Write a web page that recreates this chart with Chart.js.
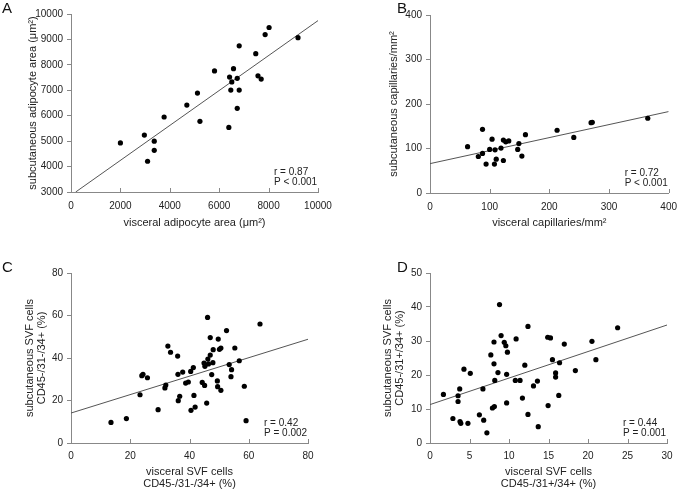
<!DOCTYPE html>
<html>
<head>
<meta charset="utf-8">
<script src="https://cdn.jsdelivr.net/npm/chart.js@4"></script>
<style>
  body { margin: 0; background: #fff; overflow: hidden; }
  .panel { position: absolute; }
  .letter { position: absolute; font: 15px/15px "Liberation Sans", Arial, sans-serif; color: #111; }
</style>
</head>
<body>
<div class="panel" style="left:0;top:0;width:342px;height:245px"><canvas id="chartA"></canvas></div>
<div class="panel" style="left:342px;top:0;width:343px;height:245px"><canvas id="chartB"></canvas></div>
<div class="panel" style="left:0;top:245px;width:342px;height:244px"><canvas id="chartC"></canvas></div>
<div class="panel" style="left:342px;top:245px;width:343px;height:244px"><canvas id="chartD"></canvas></div>
<div class="letter" style="left:2px;top:0">A</div>
<div class="letter" style="left:397px;top:0">B</div>
<div class="letter" style="left:2px;top:259px">C</div>
<div class="letter" style="left:397px;top:259px">D</div>
<script>
// Panel A: adipocyte area (um2)
var aVisceral = [2000, 2970, 3370, 3370, 3100, 3770, 4690, 5120, 5220, 5810, 6420, 6580, 6510, 6470, 6730, 6810, 6730, 6390, 6810, 7480, 7570, 7700, 7860, 8020, 9190];
var aSubcut   = [4930, 5240, 5000, 4640, 4210, 5950, 6420, 6890, 5780, 7760, 7520, 7850, 7330, 7010, 7470, 7010, 6290, 5540, 8750, 8440, 7570, 7440, 9190, 9470, 9070];
var aFit = [0.687, 2870]; // slope, intercept

// Panel B: capillaries/mm2
var bVisceral = [63, 81, 88, 88, 94, 100, 104, 109, 111, 108, 119, 123, 123, 127, 132, 147, 149, 154, 160, 213, 241, 270, 272, 365];
var bSubcut   = [104, 82, 89, 143, 65, 98, 121, 97, 76, 65, 101, 73, 119, 115, 117, 98, 111, 83, 131, 141, 125, 158, 159, 168];
var bFit = [0.2925, 66];

// Panel C: SVF cells CD45-/31-/34+ (%)
var cVisceral = [13.5, 18.7, 23.3, 23.9, 24.3, 25.8, 29.4, 31.7, 32.0, 32.7, 33.6, 36.0, 36.1, 36.2, 36.7, 37.7, 38.7, 39.6, 40.4, 40.5, 41.3, 41.5, 41.9, 44.3, 44.9, 45.2, 45.1, 45.8, 46.1, 46.2, 46.4, 47.0, 47.0, 47.5, 47.9, 48.0, 49.4, 49.7, 49.5, 50.1, 50.6, 50.6, 52.5, 53.4, 54.0, 54.2, 55.3, 56.8, 58.5, 59.1, 63.8];
var cSubcut   = [9.7, 11.5, 22.7, 31.7, 32.3, 30.7, 15.7, 25.9, 27.3, 45.6, 42.7, 40.9, 32.3, 19.9, 22.0, 33.4, 28.2, 28.7, 33.7, 15.4, 35.5, 22.4, 16.9, 28.5, 37.6, 36.1, 27.1, 18.8, 59.1, 39.5, 37.2, 49.6, 41.4, 32.2, 37.8, 43.9, 29.2, 48.9, 26.5, 44.1, 44.7, 24.8, 52.9, 36.9, 31.2, 34.5, 44.7, 38.7, 26.7, 10.5, 56.0];
var cFit = [0.434, 14.1];

// Panel D: SVF cells CD45-/31+/34+ (%)
var dVisceral = [1.7, 2.9, 3.55, 3.55, 3.76, 3.8, 3.9, 4.3, 4.8, 5.1, 6.25, 6.7, 6.8, 7.2, 7.7, 7.9, 8.1, 8.1, 8.15, 8.2, 8.6, 8.8, 9.0, 9.4, 9.6, 9.7, 9.7, 9.8, 10.8, 10.9, 11.4, 11.7, 12.0, 12.4, 12.4, 13.1, 13.6, 13.7, 14.9, 14.95, 15.25, 15.5, 15.9, 15.9, 16.3, 16.4, 17.0, 18.4, 20.5, 21.0, 23.75];
var dSubcut   = [14.3, 7.2, 12.2, 13.9, 15.9, 6.3, 5.8, 21.7, 5.8, 20.5, 8.3, 15.9, 6.7, 3.0, 25.9, 10.3, 23.3, 29.7, 10.7, 18.4, 20.7, 40.7, 31.6, 29.6, 28.6, 20.2, 11.8, 26.7, 18.4, 30.6, 18.4, 13.2, 22.9, 34.3, 8.4, 16.8, 18.2, 4.8, 31.1, 11.0, 30.9, 24.5, 20.6, 19.4, 14.0, 23.6, 29.1, 21.3, 29.9, 24.5, 33.9];
var dFit = [0.78, 11.3];

Chart.defaults.font.family = '"Liberation Sans", Arial, sans-serif';
Chart.defaults.color = '#222';

var axisGray = '#888';

// inward x ticks + r / P text
var extras = {
  id: 'extras',
  afterDraw: function(chart, args, opts) {
    var ctx = chart.ctx, area = chart.chartArea, xs = chart.scales.x;
    ctx.save();
    ctx.strokeStyle = axisGray;
    ctx.lineWidth = 1;
    xs.ticks.forEach(function(t) {
      var px = Math.round(xs.getPixelForValue(t.value)) + 0.5;
      ctx.beginPath();
      ctx.moveTo(px, area.bottom);
      ctx.lineTo(px, area.bottom - 4);
      ctx.stroke();
    });
    ctx.fillStyle = '#222';
    ctx.font = '10px "Liberation Sans", Arial, sans-serif';
    ctx.textBaseline = 'middle';
    ctx.textAlign = 'left';
    ctx.fillText(opts.stats[0], area.right - 44, area.bottom - 20);
    ctx.fillText(opts.stats[1], area.right - 44, area.bottom - 10);
    ctx.restore();
  }
};

function plainTick(v) { return String(v); }

function makePanel(id, p) {
  var xMin = p.xMin, xMax = p.xMax;
  var x0 = Math.max(xMin, (p.yMin - p.fit[1]) / p.fit[0]);
  var pts = p.xs.map(function(v, i) { return {x: v, y: p.ys[i]}; });
  var fitLine = [x0, xMax].map(function(v) { return {x: v, y: p.fit[0] * v + p.fit[1]}; });
  new Chart(document.getElementById(id), {
    type: 'scatter',
    data: {
      datasets: [{
        data: pts,
        backgroundColor: '#000',
        borderWidth: 0,
        pointRadius: 2.6
      }, {
        data: fitLine,
        showLine: true,
        borderColor: '#555',
        borderWidth: 1,
        pointRadius: 0
      }]
    },
    options: {
      responsive: true,
      maintainAspectRatio: false,
      animation: false,
      devicePixelRatio: 1,
      layout: { padding: { left: 0, top: p.top, right: p.right, bottom: 0 } },
      plugins: {
        legend: { display: false },
        tooltip: { enabled: false },
        extras: { stats: p.stats }
      },
      scales: {
        x: {
          type: 'linear',
          min: xMin, max: xMax,
          afterFit: function(s) { s.height = p.xAxisH; },
          ticks: { stepSize: p.xStep, padding: p.xTickPad, font: { size: 10 }, maxRotation: 0, callback: plainTick },
          grid: { drawOnChartArea: false, drawTicks: false },
          border: { color: axisGray, width: 1 },
          title: { display: true, text: p.xTitle, font: { size: 11, lineHeight: 1.1 }, padding: { top: 0, bottom: p.xTitlePad } }
        },
        y: {
          type: 'linear',
          min: p.yMin, max: p.yMax,
          afterFit: function(s) { s.width = p.yAxisW; },
          ticks: { stepSize: p.yStep, padding: 4, font: { size: 10 }, callback: plainTick },
          grid: { drawOnChartArea: false, drawTicks: true, tickLength: 4, tickColor: axisGray },
          border: { color: axisGray, width: 1 },
          title: { display: true, text: p.yTitle, font: { size: 11, lineHeight: 1.1 }, padding: { top: p.yTitlePad, bottom: 0 } }
        }
      }
    },
    plugins: [extras]
  });
}

makePanel('chartA', {
  xs: aVisceral, ys: aSubcut, fit: aFit,
  xMin: 0, xMax: 10000, xStep: 2000, yMin: 3000, yMax: 10000, yStep: 1000,
  top: 14, right: 24, xAxisH: 53, yAxisW: 71, xTickPad: 8, xTitlePad: 16, yTitlePad: 27,
  xTitle: 'visceral adipocyte area (\u03bcm\u00b2)',
  yTitle: 'subcutaneous adipocyte area (\u03bcm\u00b2)',
  stats: ['r = 0.87', 'P < 0.001']
});

makePanel('chartB', {
  xs: bVisceral, ys: bSubcut, fit: bFit,
  xMin: 0, xMax: 400, xStep: 100, yMin: 0, yMax: 400, yStep: 100,
  top: 15, right: 8, xAxisH: 52, yAxisW: 88, xTickPad: 8, xTitlePad: 16, yTitlePad: 46,
  xTitle: 'visceral capillaries/mm\u00b2',
  yTitle: 'subcutaneous capillaries/mm\u00b2',
  stats: ['r = 0.72', 'P < 0.001']
});

makePanel('chartC', {
  xs: cVisceral, ys: cSubcut, fit: cFit,
  xMin: 0, xMax: 80, xStep: 20, yMin: 0, yMax: 80, yStep: 20,
  top: 28, right: 34, xAxisH: 46, yAxisW: 71, xTickPad: 7, xTitlePad: -1, yTitlePad: 24,
  xTitle: ['visceral SVF cells', 'CD45-/31-/34+ (%)'],
  yTitle: ['subcutaneous SVF cells', 'CD45-/31-/34+ (%)'],
  stats: ['r = 0.42', 'P = 0.002']
});

makePanel('chartD', {
  xs: dVisceral, ys: dSubcut, fit: dFit,
  xMin: 0, xMax: 30, xStep: 5, yMin: 0, yMax: 50, yStep: 10,
  top: 28, right: 18, xAxisH: 46, yAxisW: 88, xTickPad: 7, xTitlePad: -1, yTitlePad: 40,
  xTitle: ['visceral SVF cells', 'CD45-/31+/34+ (%)'],
  yTitle: ['subcutaneous SVF cells', 'CD45-/31+/34+ (%)'],
  stats: ['r = 0.44', 'P = 0.001']
});
</script>
</body>
</html>
